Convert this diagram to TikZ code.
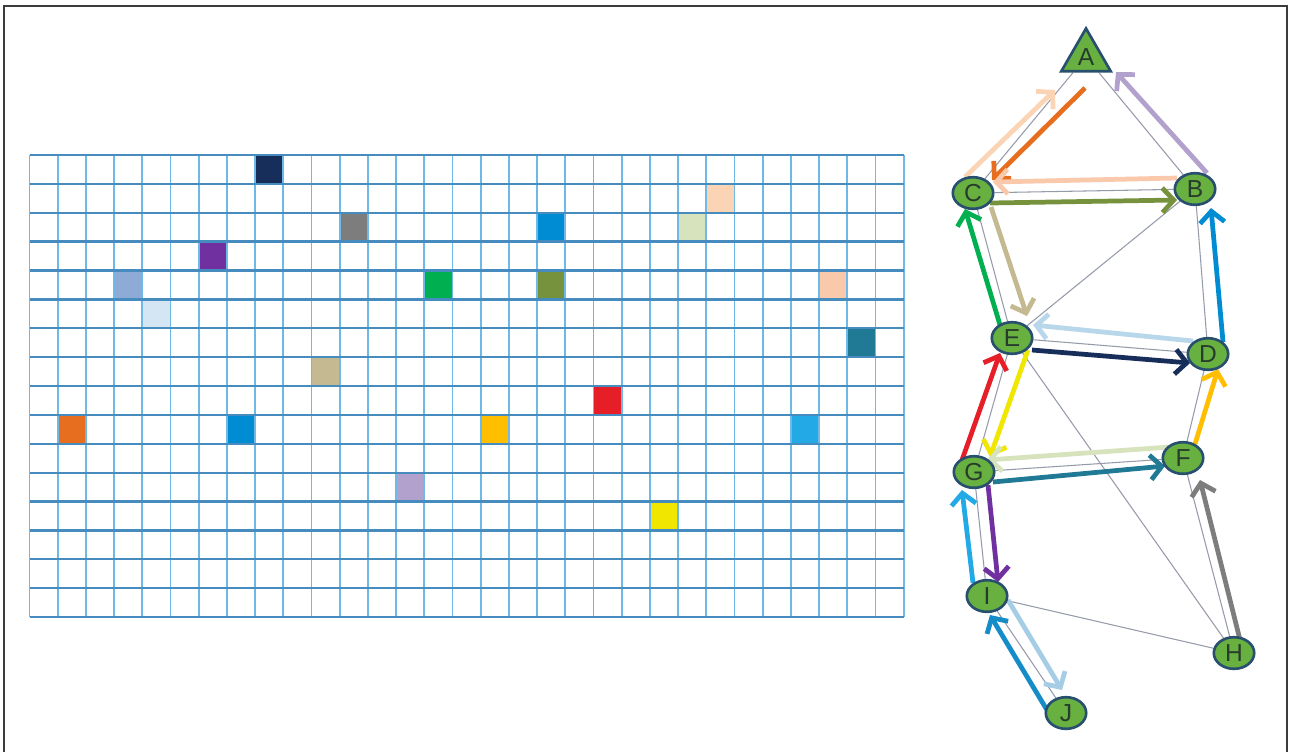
\documentclass[tikz,border=0pt]{standalone}
\usepackage{fontspec}
\setmainfont{Liberation Sans}
\usetikzlibrary{arrows.meta,calc,shapes.geometric,backgrounds}
\definecolor{frameclr}{RGB}{60,60,60}
\definecolor{hline}{RGB}{70,140,190}
\definecolor{vline}{RGB}{110,185,230}
\definecolor{nodefill}{RGB}{104,176,64}
\definecolor{nodeborder}{RGB}{40,80,110}
\definecolor{nodetext}{RGB}{40,60,45}
\definecolor{thinedge}{RGB}{150,155,170}
\definecolor{cNavy}{RGB}{23,45,90}
\definecolor{cGray}{RGB}{125,125,125}
\definecolor{cPurple}{RGB}{112,48,160}
\definecolor{cLSteel}{RGB}{142,170,215}
\definecolor{cVLBlue}{RGB}{212,229,243}
\definecolor{cGreen}{RGB}{0,176,80}
\definecolor{cTan}{RGB}{196,185,145}
\definecolor{cBlue}{RGB}{0,140,210}
\definecolor{cOlive}{RGB}{118,146,60}
\definecolor{cLPeach}{RGB}{250,212,180}
\definecolor{cPaleGreen}{RGB}{214,227,188}
\definecolor{cPeach}{RGB}{250,200,170}
\definecolor{cTeal}{RGB}{32,122,150}
\definecolor{cRed}{RGB}{230,30,40}
\definecolor{cOrange}{RGB}{230,110,30}
\definecolor{cAmber}{RGB}{255,190,0}
\definecolor{cSky}{RGB}{35,170,230}
\definecolor{cLavender}{RGB}{178,160,205}
\definecolor{cYellow}{RGB}{240,230,0}
\definecolor{aDE}{RGB}{185,215,235}
\definecolor{aIJ}{RGB}{165,205,230}
\definecolor{aJI}{RGB}{20,140,200}
\tikzset{
  gnode/.style={ellipse, draw=nodeborder, line width=1.5pt, fill=nodefill,
    minimum width=23pt, minimum height=18pt, inner sep=0pt,
    font=\fontsize{14}{14}\selectfont, text=nodetext},
  tnode/.style={regular polygon, regular polygon sides=3, draw=nodeborder,
    line width=1.5pt, fill=nodefill, minimum size=32.5pt, inner sep=0pt,
    font=\fontsize{14}{14}\selectfont, text=nodetext},
  thin edge/.style={draw=thinedge, line width=0.6pt},
  arr/.style={line width=2.7pt, -{Straight Barb[length=6.5pt,width=14pt]}}
}
\newcommand\gcell[3]{\fill[#3] ({29.5+28.2*#1},{155+28.875*#2}) rectangle ++(28.2,28.875);}
\begin{document}
\begin{tikzpicture}[x=0.02cm,y=-0.02cm]
\useasboundingbox (0,0) rectangle (1290,752);
\begin{scope}[on background layer]
  \fill[white] (0,0) rectangle (1290,752);
\end{scope}
\draw[frameclr, line width=1.2pt] (4,752) -- (4,6) -- (1287,6) -- (1287,752);

% coloured cells
\gcell{8}{0}{cNavy}
\gcell{11}{2}{cGray}
\gcell{6}{3}{cPurple}
\gcell{3}{4}{cLSteel}
\gcell{4}{5}{cVLBlue}
\gcell{14}{4}{cGreen}
\gcell{10}{7}{cTan}
\gcell{18}{2}{cBlue}
\gcell{18}{4}{cOlive}
\gcell{24}{1}{cLPeach}
\gcell{23}{2}{cPaleGreen}
\gcell{28}{4}{cPeach}
\gcell{29}{6}{cTeal}
\gcell{20}{8}{cRed}
\gcell{1}{9}{cOrange}
\gcell{7}{9}{cBlue}
\gcell{16}{9}{cAmber}
\gcell{27}{9}{cSky}
\gcell{13}{11}{cLavender}
\gcell{22}{12}{cYellow}

% grid
\foreach \i in {0,...,31}
  \draw[vline, line width=1.1pt] ({29.5+28.2*\i},155) -- ({29.5+28.2*\i},617);
\foreach \j in {0,...,16}
  \draw[hline, line width=1.3pt] (29.5,{155+28.875*\j}) -- (903.7,{155+28.875*\j});

% nodes
\node[tnode] (A) at (1086,57) {A};
\node[gnode] (B) at (1195,189) {B};
\node[gnode] (C) at (973,193) {C};
\node[gnode] (E) at (1012,338) {E};
\node[gnode] (D) at (1208,354) {D};
\node[gnode] (G) at (974,472) {G};
\node[gnode] (F) at (1183,458) {F};
\node[gnode] (I) at (987,596) {I};
\node[gnode] (H) at (1234,653) {H};
\node[gnode] (J) at (1066,713) {J};

\begin{scope}[on background layer]
  % thin undirected edges
  \draw[thin edge] (A) -- (C);
  \draw[thin edge] (A) -- (B);
  \draw[thin edge] (C) -- (B);
  \draw[thin edge] (C) -- (E);
  \draw[thin edge] (B) -- (E);
  \draw[thin edge] (B) -- (D);
  \draw[thin edge] (E) -- (D);
  \draw[thin edge] (E) -- (G);
  \draw[thin edge] (E) -- (H);
  \draw[thin edge] (D) -- (F);
  \draw[thin edge] (G) -- (F);
  \draw[thin edge] (G) -- (I);
  \draw[thin edge] (F) -- (H);
  \draw[thin edge] (I) -- (H);
  \draw[thin edge] (I) -- (J);
  % coloured directed arrows
  \draw[arr, cOrange]    ($(A)+(-1,31)$)   -- ($(C)+(19,-13)$);
  \draw[arr, cLPeach]    ($(C)+(-8,-16)$)  -- ($(A)+(-31,33)$);
  \draw[arr, cLavender]  ($(B)+(12,-16)$)  -- ($(A)+(30,15)$);
  \draw[arr, cPeach]     ($(B)+(-18,-11)$) -- ($(C)+(20,-11)$);
  \draw[arr, cOlive]     ($(C)+(17,10)$)   -- ($(B)+(-18,11)$);
  \draw[arr, cGreen]     ($(E)+(-12,-13)$) -- ($(C)+(-8,16)$);
  \draw[arr, cTan]       ($(C)+(18,14)$)   -- ($(E)+(15,-22)$);
  \draw[arr, cBlue]      ($(D)+(15,-12)$)  -- ($(B)+(16,19)$);
  \draw[arr, aDE]        ($(D)+(-15,-13)$) -- ($(E)+(21,-13)$);
  \draw[arr, cNavy]      ($(E)+(20,12)$)   -- ($(D)+(-18,9)$);
  \draw[arr, cRed]       ($(G)+(-12,-12)$) -- ($(E)+(-12,15)$);
  \draw[arr, cYellow]    ($(E)+(16,12)$)   -- ($(G)+(16,-15)$);
  \draw[arr, cAmber]     ($(F)+(12,-14)$)  -- ($(D)+(10,15)$);
  \draw[arr, cPaleGreen] ($(F)+(-13,-11)$) -- ($(G)+(13,-12)$);
  \draw[arr, cTeal]      ($(G)+(19,10)$)   -- ($(F)+(-18,8)$);
  \draw[arr, cGray]      ($(H)+(6,-13)$)   -- ($(F)+(17,22)$);
  \draw[arr, cSky]       ($(I)+(-14,-13)$) -- ($(G)+(-12,18)$);
  \draw[arr, cPurple]    ($(G)+(14,13)$)   -- ($(I)+(11,-14)$);
  \draw[arr, aJI]        ($(J)+(-19,-3)$)  -- ($(I)+(3,19)$);
  \draw[arr, aIJ]        ($(I)+(21,4)$)    -- ($(J)+(-4,-23)$);
\end{scope}
\end{tikzpicture}
\end{document}
